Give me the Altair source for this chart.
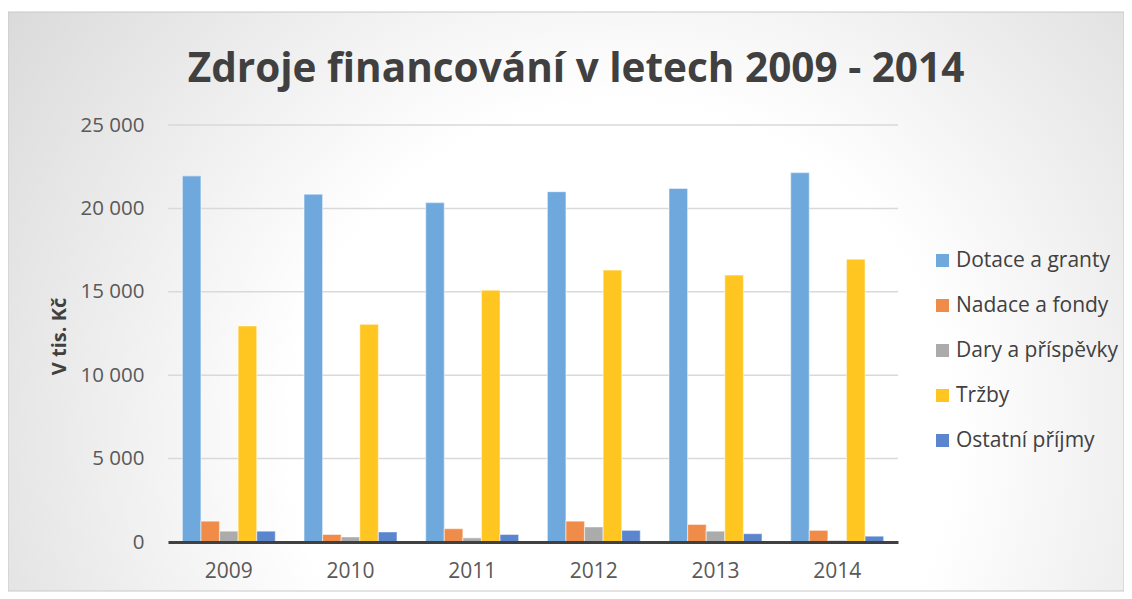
import altair as alt
import pandas as pd

years = ["2009", "2010", "2011", "2012", "2013", "2014"]
series = ["Dotace a granty", "Nadace a fondy", "Dary a příspěvky", "Tržby", "Ostatní příjmy"]
dotace = [21950, 20850, 20350, 21000, 21200, 22150]
nadace = [1250, 450, 800, 1250, 1050, 700]
dary = [650, 300, 250, 900, 650, 100]
trzby = [12950, 13050, 15100, 16300, 16000, 16950]
ostatni = [650, 600, 450, 700, 500, 350]
colors = ["#6fa8dc", "#f08c4a", "#ababab", "#ffc520", "#5b85cc"]
y_ticks = [0, 5000, 10000, 15000, 20000, 25000]
grid_values = [5000, 10000, 15000, 20000, 25000]

values = [dotace, nadace, dary, trzby, ostatni]
rows = []
for s, vals in zip(series, values):
    for y, v in zip(years, vals):
        rows.append({"Rok": y, "Zdroj": s, "Hodnota": v})
df = pd.DataFrame(rows)

W, H = 730, 417
PL, PT, PR, PB = 160, 117, 226, 50

yscale = alt.Scale(domain=[0, 25000], nice=False)
y_axis = alt.Axis(
    title="V tis. Kč",
    titleFont="Open Sans",
    titleFontSize=20,
    titleFontWeight="bold",
    titleColor="#404040",
    titleX=-99,
    titleY=211,
    values=y_ticks,
    labelExpr="replace(format(datum.value, ','), ',', ' ')",
    labelFont="Open Sans",
    labelFontSize=20.5,
    labelColor="#595959",
    labelPadding=24,
    ticks=False,
    domain=False,
    grid=False,
    zindex=1,
)

bg = alt.Chart(pd.DataFrame({"a": [0]})).mark_rect(
    fill=alt.RadialGradient(
        gradient="radial",
        x1=0.55, y1=0.62, r1=0.0,
        x2=0.55, y2=0.62, r2=0.85,
        stops=[
            alt.GradientStop(offset=0.0, color="#ffffff"),
            alt.GradientStop(offset=0.35, color="#ffffff"),
            alt.GradientStop(offset=1.0, color="#c8c8c8"),
        ],
    ),
    stroke="#c8c8c8",
    strokeWidth=1,
).encode(
    x=alt.value(-PL),
    x2=alt.value(W + PR),
    y=alt.value(-113),
    y2=alt.value(H + PB - 1),
)

grid = alt.Chart(pd.DataFrame({"Hodnota": grid_values})).mark_rule(
    color="#d9d9d9", strokeWidth=1.5
).encode(
    y=alt.Y("Hodnota:Q", scale=yscale, axis=y_axis),
    x=alt.value(0),
    x2=alt.value(W),
)

bars = alt.Chart(df).mark_bar(
    stroke="white", strokeOpacity=0.45, strokeWidth=1.2
).encode(
    x=alt.X(
        "Rok:N",
        sort=years,
        scale=alt.Scale(paddingInner=0.236, paddingOuter=0.118),
        axis=alt.Axis(
            title=None,
            labelAngle=0,
            labelFont="Open Sans",
            labelFontSize=21,
            labelColor="#595959",
            labelPadding=18,
            ticks=False,
            domainColor="#404040",
            domainWidth=3,
            grid=False,
            zindex=1,
        ),
    ),
    xOffset=alt.XOffset("Zdroj:N", sort=series, scale=alt.Scale(paddingInner=0, paddingOuter=0)),
    y=alt.Y("Hodnota:Q", scale=yscale, axis=y_axis),
    color=alt.Color(
        "Zdroj:N",
        sort=series,
        scale=alt.Scale(domain=series, range=colors),
        legend=alt.Legend(
            title=None,
            orient="none",
            legendX=764,
            legendY=125,
            symbolType="square",
            symbolSize=169,
            symbolStrokeWidth=0,
            labelFont="Open Sans",
            labelFontSize=21,
            labelColor="#404040",
            labelOffset=3,
            labelLimit=400,
            rowPadding=23,
            zindex=1,
        ),
    ),
)

title = alt.Chart(pd.DataFrame({"t": ["Zdroje financování v letech 2009 - 2014"]})).mark_text(
    font="Open Sans",
    fontSize=40.5,
    fontWeight="bold",
    color="#404040",
    align="center",
    baseline="alphabetic",
).encode(
    text="t:N",
    x=alt.value(408),
    y=alt.value(-43),
)

chart = alt.layer(bg, grid, bars, title).properties(
    width=W,
    height=H,
    autosize=alt.AutoSizeParams(type="none"),
    padding={"left": PL, "top": PT, "right": PR, "bottom": PB},
).configure_view(stroke=None).configure(background="white")

chart.save("out.html", embed_options={"renderer": "svg", "actions": False})
